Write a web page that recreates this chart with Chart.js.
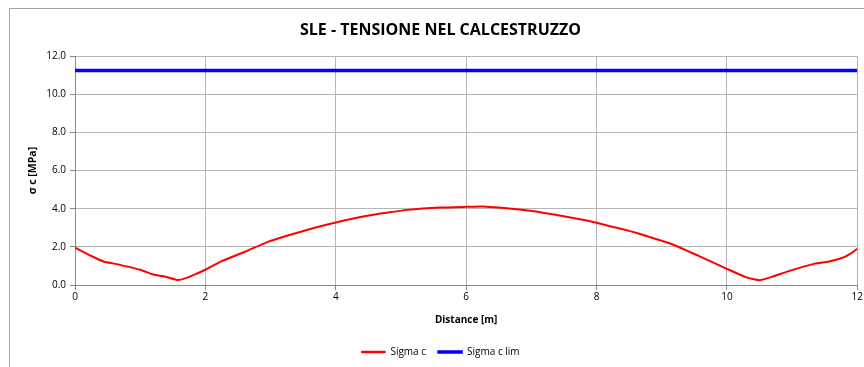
<!DOCTYPE html>
<html>
<head>
<meta charset="utf-8">
<script src="https://cdn.jsdelivr.net/npm/chart.js@4"></script>
<style>
  html, body { margin: 0; padding: 0; background: #fff; }
  #wrap { position: relative; width: 864px; height: 367px; overflow: hidden; }
  #frame { position: absolute; left: 9px; top: 8px; width: 900px; height: 400px; border: 1px solid #a6a6a6; box-sizing: border-box; }
  canvas { position: absolute; left: 0; top: 0; }
</style>
</head>
<body>
<div id="wrap">
  <div id="frame"></div>
  <canvas id="c" width="864" height="367"></canvas>
</div>
<script>
const titleText = "SLE - TENSIONE NEL CALCESTRUZZO";
const xTitle = "Distance [m]";
const yTitle = "σ c [MPa]";
const seriesNames = ["Sigma c", "Sigma c lim"];

const distance = [0, 0.25, 0.45, 0.6, 1.0, 1.2, 1.4, 1.58, 1.7, 1.85, 2.0, 2.25, 2.6, 2.95, 3.25, 3.65, 4.0, 4.4, 4.8, 5.1, 5.6, 6.0, 6.25, 6.85, 7.35, 7.85, 8.0, 8.45, 8.85, 9.15, 9.55, 10.0, 10.3, 10.5, 10.7, 10.95, 11.35, 11.55, 11.75, 11.9, 12.0];
const sigmaC = [1.96, 1.52, 1.22, 1.12, 0.8, 0.55, 0.42, 0.26, 0.36, 0.57, 0.8, 1.25, 1.73, 2.25, 2.58, 2.98, 3.28, 3.58, 3.8, 3.94, 4.06, 4.1, 4.12, 3.95, 3.7, 3.38, 3.26, 2.88, 2.48, 2.15, 1.55, 0.85, 0.4, 0.25, 0.44, 0.73, 1.12, 1.22, 1.4, 1.65, 1.9];
const limDistance = [0, 12];
const sigmaCLim = [11.25, 11.25];

const font = "'Open Sans', 'Liberation Sans', sans-serif";

new Chart(document.getElementById('c'), {
  type: 'scatter',
  data: {
    datasets: [
      {
        label: seriesNames[0],
        data: distance.map((d, i) => ({ x: d, y: sigmaC[i] })),
        showLine: true,
        borderColor: '#ff0000',
        backgroundColor: '#ff0000',
        borderWidth: 2,
        pointRadius: 0,
        tension: 0.15
      },
      {
        label: seriesNames[1],
        data: limDistance.map((d, i) => ({ x: d, y: sigmaCLim[i] })),
        showLine: true,
        borderColor: '#0000ff',
        backgroundColor: '#0000ff',
        borderWidth: 3.5,
        pointRadius: 0
      }
    ]
  },
  options: {
    responsive: false,
    animation: false,
    layout: { padding: { left: 22, right: 5, top: 0, bottom: 0 } },
    plugins: {
      title: {
        display: true,
        text: titleText,
        color: '#000',
        font: { family: font, size: 16, weight: 'bold' },
        padding: { top: 21, bottom: 16 }
      },
      legend: {
        position: 'bottom',
        labels: {
          color: '#000',
          font: { family: font, size: 10 },
          boxWidth: 24,
          boxHeight: 2,
          padding: 12,
          generateLabels: (chart) => chart.data.datasets.map((ds, i) => ({
            text: ds.label,
            fillStyle: ds.borderColor,
            strokeStyle: ds.borderColor,
            lineWidth: i === 0 ? 0.5 : 1.5,
            datasetIndex: i,
            hidden: false
          }))
        }
      },
      tooltip: { enabled: false }
    },
    scales: {
      x: {
        type: 'linear',
        min: 0,
        max: 12,
        afterFit: (s) => { s.height = 50; },
        ticks: { stepSize: 2, color: '#000', font: { family: font, size: 10 }, padding: 1, maxRotation: 0 },
        grid: { color: '#b5b5b5', tickLength: 5, tickColor: '#888' },
        border: { color: '#888' },
        title: { display: true, text: xTitle, color: '#000', font: { family: font, size: 10, weight: 'bold' }, padding: { top: 2, bottom: 9 } }
      },
      y: {
        min: 0,
        max: 12,
        afterFit: (s) => { s.width = 53; },
        ticks: { stepSize: 2, color: '#000', font: { family: font, size: 10 }, padding: 4, callback: (v) => Number(v).toFixed(1) },
        grid: { color: '#b5b5b5', tickLength: 5, tickColor: '#888' },
        border: { color: '#888' },
        title: { display: true, text: yTitle, color: '#000', font: { family: font, size: 10.5, weight: 'bold' }, padding: { top: 5, bottom: 0 } }
      }
    }
  }
});
</script>
</body>
</html>
